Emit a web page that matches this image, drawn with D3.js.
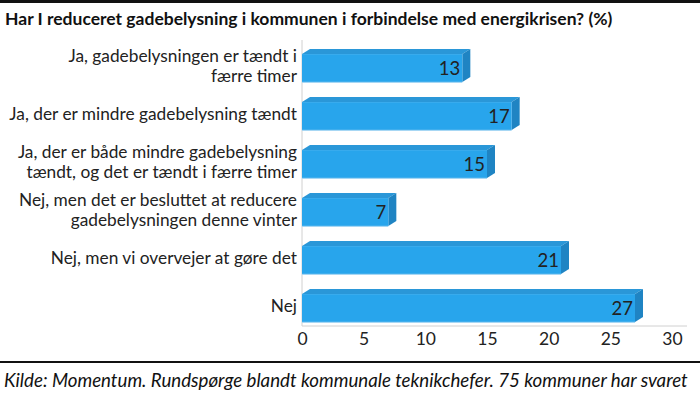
<!DOCTYPE html>
<html>
<head>
<meta charset="utf-8">
<script src="https://cdn.jsdelivr.net/npm/d3@7"></script>
<style>
  body { margin: 0; background: #fff; }
  svg { display: block; font-family: Lato, "Open Sans", sans-serif; }
</style>
</head>
<body>
<div id="chart"></div>
<script>
'use strict';

var categories = [
    ['Ja, gadebelysningen er tændt i', 'færre timer'],
    ['Ja, der er mindre gadebelysning tændt'],
    ['Ja, der er både mindre gadebelysning', 'tændt, og det er tændt i færre timer'],
    ['Nej, men det er besluttet at reducere', 'gadebelysningen denne vinter'],
    ['Nej, men vi overvejer at gøre det'],
    ['Nej']
];
var values = [13, 17, 15, 7, 21, 27];
var ticks = [0, 5, 10, 15, 20, 25, 30];

var title = 'Har I reduceret gadebelysning i kommunen i forbindelse med energikrisen? (%)';
var source = 'Kilde: Momentum. Rundspørge blandt kommunale teknikchefer. 75 kommuner har svaret';

var width = 700, height = 394;
var depthX = 8, depthY = 5;

var svg = d3.select('#chart').append('svg')
    .attr('width', width)
    .attr('height', height);

// top rule + title
svg.append('rect').attr('x', 0).attr('y', 0).attr('width', width).attr('height', 3).attr('fill', '#111');
svg.append('text')
    .attr('x', 5).attr('y', 25)
    .attr('font-size', 17.5).attr('font-weight', 700).attr('fill', '#111')
    .text(title);

var x = d3.scaleLinear().domain([0, 30]).range([302, 672]);
var y = d3.scaleBand()
    .domain(d3.range(categories.length))
    .range([44, 332])
    .paddingInner(0.42)
    .paddingOuter(0.21);

var axisY = 326;

// axis lines
svg.append('line')
    .attr('x1', x(0)).attr('x2', x(0))
    .attr('y1', 40).attr('y2', axisY)
    .attr('stroke', '#d0d0d0').attr('stroke-width', 1);
svg.append('line')
    .attr('x1', x(0)).attr('x2', 687)
    .attr('y1', axisY).attr('y2', axisY)
    .attr('stroke', '#d0d0d0').attr('stroke-width', 1);

var xAxis = d3.axisBottom(x).tickValues(ticks).tickSize(0).tickPadding(7);
var gx = svg.append('g')
    .attr('transform', 'translate(0,' + axisY + ')')
    .call(xAxis);
gx.select('.domain').remove();
gx.selectAll('text')
    .attr('font-family', 'Lato, sans-serif')
    .attr('font-size', 17.5)
    .attr('fill', '#222');

// bars
var bars = svg.selectAll('.bar')
    .data(values)
    .enter()
    .append('g')
    .attr('class', 'bar');

// top face
bars.append('path')
    .attr('d', function(d, i){
        var y0 = y(i), x0 = x(0), x1 = x(d);
        return 'M' + x0 + ',' + y0 + 'L' + (x0 + depthX) + ',' + (y0 - depthY) +
            'L' + (x1 + depthX) + ',' + (y0 - depthY) + 'L' + x1 + ',' + y0 + 'Z';
    })
    .attr('fill', '#2a97d8');

// side face
bars.append('path')
    .attr('d', function(d, i){
        var y0 = y(i), y1 = y(i) + y.bandwidth(), x1 = x(d);
        return 'M' + x1 + ',' + y0 + 'L' + (x1 + depthX) + ',' + (y0 - depthY) +
            'L' + (x1 + depthX) + ',' + (y1 - depthY) + 'L' + x1 + ',' + y1 + 'Z';
    })
    .attr('fill', '#1f84c3');

// front face
bars.append('rect')
    .attr('x', x(0))
    .attr('y', function(d, i){ return y(i); })
    .attr('width', function(d){ return x(d) - x(0); })
    .attr('height', y.bandwidth())
    .attr('fill', '#28a5ec');

// light edges
bars.append('line')
    .attr('x1', x(0)).attr('x2', function(d){ return x(d); })
    .attr('y1', function(d, i){ return y(i) + y.bandwidth() + 0.5; })
    .attr('y2', function(d, i){ return y(i) + y.bandwidth() + 0.5; })
    .attr('stroke', '#9fd3f3').attr('stroke-width', 1);

// value labels
bars.append('text')
    .attr('x', function(d){ return x(d) - 2; })
    .attr('y', function(d, i){ return y(i) + y.bandwidth() / 2 + 7; })
    .attr('text-anchor', 'end')
    .attr('font-size', 18.5)
    .attr('fill', '#222')
    .text(function(d){ return d; });

// category labels
var labels = svg.selectAll('.cat')
    .data(categories)
    .enter()
    .append('text')
    .attr('class', 'cat')
    .attr('text-anchor', 'end')
    .attr('font-size', 17.3)
    .attr('fill', '#222')
    .attr('y', function(d, i){
        var c = y(i) + y.bandwidth() / 2 - 2;
        return c - (d.length - 1) * 10 + 6;
    });

labels.selectAll('tspan')
    .data(function(d){ return d; })
    .enter()
    .append('tspan')
    .attr('x', 297)
    .attr('dy', function(d, i){ return i === 0 ? 0 : 20; })
    .text(function(d){ return d; });

// bottom rule + source
svg.append('rect').attr('x', 0).attr('y', 361).attr('width', width).attr('height', 2).attr('fill', '#111');
svg.append('text')
    .attr('x', 4).attr('y', 387)
    .attr('font-size', 18.7).attr('font-style', 'italic').attr('fill', '#111')
    .text(source);
</script>
</body>
</html>
